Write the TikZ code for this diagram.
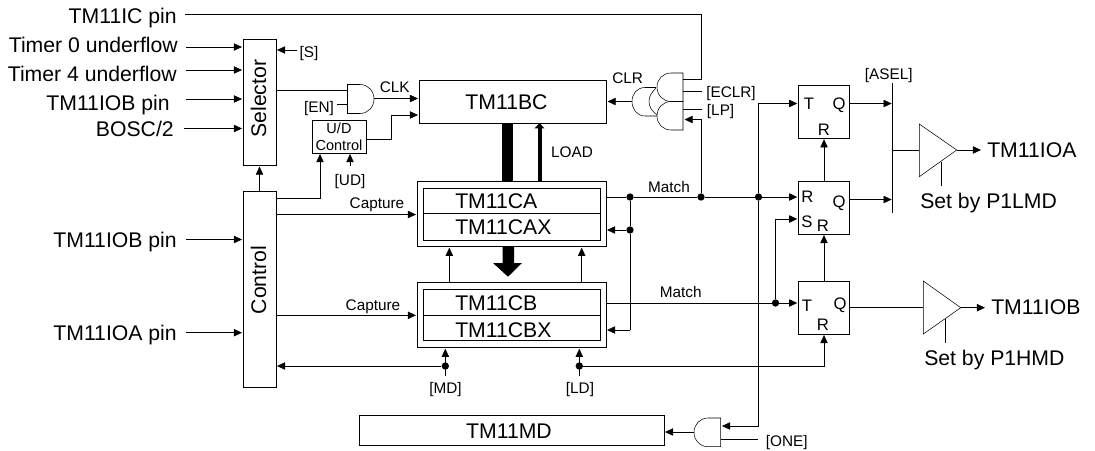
\documentclass[tikz,border=0pt]{standalone}
\usepackage{fontspec}
\setmainfont{Liberation Sans}
\usetikzlibrary{arrows.meta}
\newcommand\bx[6][]{% opts, name, x0,y0,x1,y1
  \pgfmathsetmacro\cx{(#3+#5)/2}\pgfmathsetmacro\cy{(#4+#6)/2}%
  \pgfmathsetmacro\ww{(#5-#3)*0.75}\pgfmathsetmacro\hh{(#6-#4)*0.75}%
  \node[boxn,minimum width=\ww pt,minimum height=\hh pt,#1] (#2) at (\cx,\cy) {};}
\tikzset{
  x=0.75pt,y=-0.75pt,
  line width=0.95pt,
  boxn/.style={draw,rectangle,inner sep=0pt,outer sep=0pt},
  big/.style={font=\fontsize{15.9}{18}\selectfont,inner sep=0pt,text height=11.4pt,text depth=0pt},
  small/.style={font=\fontsize{11.5}{13}\selectfont,inner sep=0pt,text height=8.3pt,text depth=0pt},
  ff/.style={font=\fontsize{12.5}{14}\selectfont,inner sep=0pt,text height=9pt,text depth=0pt},
  tiny/.style={font=\fontsize{10.9}{12}\selectfont,inner sep=0pt,text height=7.9pt,text depth=0pt},
  arr/.style={-{Stealth[length=6pt,width=5.5pt,inset=0pt]},shorten >=0.8pt},
  dot/.style={circle,fill=black,inner sep=0pt,minimum size=5.5pt},
  thick arr/.style={line width=3pt,-{Stealth[length=4pt,width=7pt,inset=0pt]}},
}
\begin{document}
\begin{tikzpicture}
\useasboundingbox (0,0) rectangle (1095,450);
% boxes
\bx{sel}{243}{39}{276}{165.5}
\bx{ctl}{243}{191}{276}{387}
\bx{ud}{312}{120.5}{366}{153}
\bx{bc}{419}{80}{606.5}{123}
\bx{caO}{417}{181}{606}{246.7}
\bx{caI}{423}{188}{600}{240}
\bx{cbO}{417}{282.3}{606}{347.7}
\bx{cbI}{423}{289}{600}{340.7}
\bx{md}{359.3}{415.7}{664}{445}
\bx{ffa}{798.3}{85.5}{849.7}{138.3}
\bx{ffb}{798.3}{181}{849.7}{234}
\bx{ffc}{798.3}{281}{849.7}{334}
\coordinate (caL) at (423,213.5); \coordinate (caR) at (600,213.5);
\coordinate (cbL) at (423,315); \coordinate (cbR) at (600,315);
\draw (caL) -- (caR);
\draw (cbL) -- (cbR);
% box text
\node[big,rotate=90] (tsel) at (258.5,98.7) {Selector};
\node[big,rotate=90] (tctl) at (258.5,280) {Control};
\node[big] (tbc) at (506.5,102) {TM11BC};
\node[big,anchor=west] (tca) at (455,201) {TM11CA};
\node[big,anchor=west] (tcax) at (455,226.5) {TM11CAX};
\node[big,anchor=west] (tcb) at (455,303) {TM11CB};
\node[big,anchor=west] (tcbx) at (455,330) {TM11CBX};
\node[big] (tmd) at (509,431) {TM11MD};
\node[tiny] (tud) at (339,128.5) {U/D};
\node[tiny] (tudc) at (339,145.5) {Control};
% left labels
\node[big,anchor=east] (lic) at (177,15.5) {TM11IC pin};
\node[big,anchor=east] (lt0) at (178,45) {Timer 0 underflow};
\node[big,anchor=east] (lt4) at (177,74) {Timer 4 underflow};
\node[big,anchor=east] (liob) at (170,103) {TM11IOB pin};
\node[big,anchor=east] (lbo) at (174,128.5) {BOSC/2};
\node[big,anchor=east] (liob2) at (177,240) {TM11IOB pin};
\node[big,anchor=east] (lioa2) at (177,333) {TM11IOA pin};
% small labels
\node[small] (ls) at (309,52) {[S]};
\node[small] (len) at (319,106.5) {[EN]};
\node[small] (lclk) at (394.7,87) {CLK};
\node[small] (lud) at (350,180) {[UD]};
\node[small] (lcap1) at (377,202.5) {Capture};
\node[small] (lcap2) at (373,305) {Capture};
\node[small] (lclr) at (627.7,78) {CLR};
\node[small,anchor=west] (lecl) at (706,91.7) {[ECLR]};
\node[small,anchor=west] (llp) at (706.7,110) {[LP]};
\node[small] (lload) at (572,151.7) {LOAD};
\node[small] (lm1) at (669,187) {Match};
\node[small] (lm2) at (680.7,291.7) {Match};
\node[small] (lasel) at (888.7,74) {[ASEL]};
\node[small] (lmd) at (445.5,388) {[MD]};
\node[small] (lld) at (580,388) {[LD]};
\node[small,anchor=west] (lone) at (765.7,441) {[ONE]};
% flip-flop text
\node[ff] (a1) at (809,103.5) {T};
\node[ff] (a2) at (839,103.5) {Q};
\node[ff] (a3) at (824,129) {R};
\node[ff] (b1) at (807.5,196.5) {R};
\node[ff] (b2) at (807,221) {S};
\node[ff] (b3) at (823,225.5) {R};
\node[ff] (b4) at (839,201.5) {Q};
\node[ff] (c1) at (807,305) {T};
\node[ff] (c2) at (840,303.5) {Q};
\node[ff] (c3) at (823,324.5) {R};
% right labels
\node[big,anchor=west] (oa) at (987,150) {TM11IOA};
\node[big,anchor=west] (ob) at (991,306.5) {TM11IOB};
\node[big,anchor=west] (sa) at (920,200.8) {Set by P1LMD};
\node[big,anchor=west] (sb) at (924,357.5) {Set by P1HMD};
% gates
\draw (347.5,84.5) -- (360,84.5) .. controls (368,84.5) and (374,91) .. (374,99) .. controls (374,107) and (368,113.5) .. (360,113.5) -- (347.5,113.5) -- cycle;
\draw (683,73) -- (671,73) .. controls (663,73) and (657,79) .. (657,87) .. controls (657,95) and (663,101.5) .. (671,101.5) -- (683,101.5) -- cycle;
\draw (683,101.5) -- (671,101.5) .. controls (663,101.5) and (657,108) .. (657,116) .. controls (657,124) and (663,130) .. (671,130) -- (683,130) -- cycle;
\draw (656,87.5) -- (645,87.5) .. controls (637,87.5) and (632,94) .. (632,101.5) .. controls (632,109) and (637,116) .. (645,116) -- (657,116);
\draw (656,88) .. controls (652,92) and (649,96) .. (649,101.5) .. controls (649,107) and (652,111) .. (657,115);
\draw (720.7,418) -- (708,418) .. controls (700,418) and (694,424.5) .. (694,432.3) .. controls (694,440) and (700,446.7) .. (708,446.7) -- (720.7,446.7) -- cycle;
% buffers
\draw (919.3,124) -- (956.7,150) -- (919.3,176.7) -- cycle;
\draw (923.3,281) -- (960.7,307.7) -- (923.3,334) -- cycle;
% ports
\coordinate (icS) at (185,14.7); \coordinate (icC) at (701,14.7); \coordinate (icE) at (683,79);
\coordinate (s0) at (186,47); \coordinate (s4) at (186,70); \coordinate (sI) at (186,99); \coordinate (sB) at (184,128.5);
\coordinate (c0) at (186,239.5); \coordinate (c1p) at (186,332.7);
\coordinate (sS) at (297,50);
\coordinate (selO) at (276,90.5); \coordinate (andA) at (347.5,90.5);
\coordinate (enS) at (337,104.5); \coordinate (andB) at (347.5,104.5);
\coordinate (andO) at (374,98.5); \coordinate (bcA) at (419,98.5);
\coordinate (udO) at (366,139); \coordinate (udT) at (391,115); \coordinate (bcB) at (419,115);
\coordinate (cU) at (276,198); \coordinate (udB) at (320,153);
\coordinate (udS) at (350,166); \coordinate (udE) at (350,153);
\coordinate (cap1) at (276,214.5); \coordinate (cap2) at (276,315.3);
\coordinate (ecS) at (683,91); \coordinate (ecE) at (702,91);
\coordinate (lpS) at (683,109); \coordinate (lpE) at (702,109);
\coordinate (orO) at (632,101.5);
\coordinate (lpA) at (683.5,119.5);
\node[dot] (d1) at (630,197) {};
\node[dot] (d2) at (701,197) {};
\node[dot] (d3) at (758.5,197) {};
\node[dot] (d4) at (630,230) {};
\node[dot] (d5) at (775.5,303) {};
\node[dot] (dmd) at (445.3,366) {};
\node[dot] (dld) at (579.3,366) {};
\coordinate (caOut) at (606,197);
\coordinate (cbOut) at (606,303);
\coordinate (aT) at (798.3,103.5);
\coordinate (bS) at (798.3,219);
\coordinate (cbX) at (630,330);
\coordinate (anI) at (721,426);
\coordinate (anJ) at (721,439); \coordinate (anK) at (758,439);
\coordinate (mdO) at (694,432);
\coordinate (asT) at (892.7,83); \coordinate (asB) at (892.7,212.7);
\coordinate (qa) at (849.7,103.5); \coordinate (qb) at (849.7,199.5);
\coordinate (ba) at (919.3,150); \coordinate (ta) at (956.7,150); \coordinate (tae) at (982,150);
\coordinate (qc) at (849.7,307.7); \coordinate (bb) at (923.3,307.7); \coordinate (tb) at (960.7,307.7); \coordinate (tbe) at (986,307.7);
\coordinate (ea) at (941,161.5); \coordinate (eaE) at (941,186);
\coordinate (eb) at (945,318.5); \coordinate (ebE) at (945,342.7);
\coordinate (mdS) at (445.3,376); \coordinate (ldS) at (579.3,376);
\coordinate (up1) at (449.3,0); \coordinate (up2) at (581.7,0);
\coordinate (sb1) at (507.5,0);
\coordinate (load) at (539.5,0);
% connectors
\draw (icS) -- (icC) |- (icE);
\draw[arr] (s0) -- (s0 -| sel.west);
\draw[arr] (s4) -- (s4 -| sel.west);
\draw[arr] (sI) -- (sI -| sel.west);
\draw[arr] (sB) -- (sB -| sel.west);
\draw[arr] (c0) -- (c0 -| ctl.west);
\draw[arr] (c1p) -- (c1p -| ctl.west);
\draw[arr] (sS) -- (sS -| sel.east);
\draw[arr] (ctl.north) -- (sel.south);
\draw (selO) -- (andA);
\draw (enS) -- (andB);
\draw[arr] (andO) -- (bcA);
\draw[arr] (udO) -| (udT) -- (bcB);
\draw[arr] (cU) -| (udB);
\draw[arr] (udS) -- (udE);
\draw[arr] (cap1) -- (cap1 -| caO.west);
\draw[arr] (cap2) -- (cap2 -| cbO.west);
\draw (ecS) -- (ecE);
\draw (lpS) -- (lpE);
\draw[arr] (orO) -- (orO -| bc.east);
\draw[arr] (d2) |- (lpA);
% data bars
\draw[line width=8.5pt] (sb1 |- bc.south) -- (sb1 |- caO.north);
\draw[thick arr] (load |- caO.north) -- (load |- bc.south);
\fill (502.7,246.7) -- (514,246.7) -- (514,263) -- (522,263) -- (508,276.7) -- (493,263) -- (502.7,263) -- cycle;
\draw[arr] (up1 |- cbO.north) -- (up1 |- caO.south);
\draw[arr] (up2 |- cbO.north) -- (up2 |- caO.south);
% match
\draw[arr] (caOut) -- (d1) -- (d2) -- (d3) -- (d3 -| ffb.west);
\draw (d1) -- (d4) -- (cbX);
\draw[arr] (d4) -- (d4 -| caO.east);
\draw[arr] (cbX) -- (cbX -| cbO.east);
\draw[arr] (d3) |- (aT);
\draw[arr] (d3) |- (anI);
\draw (anJ) -- (anK);
\draw[arr] (cbOut) -- (d5) -- (d5 -| ffc.west);
\draw[arr] (d5) |- (bS);
\draw[arr] (ffb.north) -- (ffa.south);
\draw[arr] (ffc.north) -- (ffb.south);
\draw[arr] (dld) -| (ffc.south);
\draw[arr] (ldS) -- (ldS |- cbO.south);
\draw[arr] (mdS) -- (mdS |- cbO.south);
\draw[arr] (dmd) -- (dmd -| ctl.east);
\draw[arr] (mdO) -- (mdO -| md.east);
\draw[arr] (qa) -- (qa -| asT);
\draw[arr] (qb) -- (qb -| asT);
\draw (asT) -- (asB);
\draw (ba -| asT) -- (ba);
\draw[arr] (ta) -- (tae);
\draw (qc) -- (bb);
\draw[arr] (tb) -- (tbe);
\draw (ea) -- (eaE);
\draw (eb) -- (ebE);
\end{tikzpicture}
\end{document}
